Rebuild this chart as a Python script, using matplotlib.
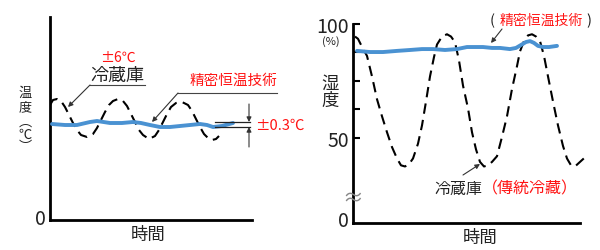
import matplotlib
matplotlib.use("Agg")
import matplotlib.pyplot as plt

plt.rcParams['font.family'] = ['Noto Sans CJK JP', 'DejaVu Sans']

# -------------------------------------------------------
# DATA (relative units)
# -------------------------------------------------------

# left: temperature, ordinary fridge vs precision constant-temperature
temp_t_fridge = [0, 3, 7, 11, 15, 19, 23, 27, 31, 37, 43, 47, 51, 55, 59, 63, 68,
                 73, 77, 81, 85, 89, 93, 99, 105, 109, 113, 117, 121, 126, 132,
                 138, 142, 146, 150, 154, 158, 162, 166, 169]
temp_fridge = [115, 120, 121, 119, 113, 105, 97, 90, 85, 83, 86, 92, 100, 108, 115,
               119, 121, 119, 114, 106, 98, 90, 85, 81, 84, 90, 98, 106, 113, 117,
               118, 115, 109, 101, 93, 86, 82, 80, 81, 84]

temp_t_precise = [2, 15, 27, 40, 47, 60, 72, 83, 91, 100, 110, 120, 130, 140, 150,
                  157, 163, 172, 183]
temp_precise = [96, 95, 95, 98, 99, 97, 97, 98, 97, 95, 93, 93, 94, 95, 96,
                95, 93, 94, 97]

# right: humidity (%)
hum_t_fridge = [2, 5, 9, 14, 19, 24, 29, 34, 39, 44, 48, 52, 56, 60, 65, 69, 73, 77,
                81, 84, 89, 94, 98, 102, 106, 110, 115, 119, 123, 127, 131, 135,
                139, 144, 149, 154, 159, 164, 167, 171, 175, 179, 183, 187, 191,
                195, 200, 205, 210, 214, 218, 222, 227, 232]
hum_fridge = [94.5, 93.5, 90, 86, 77, 67, 59.5, 52.5, 46, 41, 38, 37.5, 38.5, 41,
              47.5, 55.5, 66, 77, 85.5, 91, 94.5, 95.5, 94.5, 92, 84, 73, 63, 52.5,
              45, 39.5, 37.5, 38, 39.5, 42, 50.5, 59.5, 71.5, 81.5, 88, 92.5, 95,
              95.5, 94.5, 92.5, 86, 77, 66, 55.5, 46.5, 41, 38, 37.5, 39.5, 41.5]

hum_t_precise = [4, 17, 30, 44, 57, 69, 80, 92, 104, 114, 122, 130, 139, 147, 157,
                 163, 168, 173, 177, 181, 185, 190, 196, 204]
hum_precise = [88.2, 87.7, 87.7, 88.2, 88.6, 89.0, 89.0, 88.6, 89.0, 89.9, 89.9,
               89.9, 89.5, 89.5, 89.0, 89.5, 90.8, 92.1, 92.5, 91.7, 90.4, 89.9,
               89.9, 90.4]

hum_ticks = [100, 87.5, 75, 62.5, 50]
hum_tick_labels = ['100', '', '', '', '50']

blue = '#4a92d2'
red = '#ff1414'
ink = '#222222'
dash = (5, 3)

fig = plt.figure(figsize=(6, 2.51), dpi=100)
W, H = 600, 251


def box(x0, y0, x1, y1):
    return [x0 / W, 1 - y1 / H, (x1 - x0) / W, (y1 - y0) / H]


# -------------------------------------------------------
# LEFT: TEMPERATURE
# -------------------------------------------------------

ax1 = fig.add_axes(box(50, 18, 252, 221))
ax1.plot(temp_t_fridge, temp_fridge, color='black', lw=1.5,
         dashes=dash, zorder=2)
ax1.plot(temp_t_precise, temp_precise, color=blue, lw=2.8,
         solid_capstyle='round', zorder=3)
ax1.set_xlim(0, 202)
ax1.set_ylim(0, 203)
ax1.set_xticks([])
ax1.set_yticks([])

# -------------------------------------------------------
# RIGHT: HUMIDITY
# -------------------------------------------------------

ax2 = fig.add_axes(box(353, 25, 580, 224))
ax2.plot(hum_t_fridge, hum_fridge, color='black', lw=1.5,
         dashes=dash, clip_on=False, zorder=2)
ax2.plot(hum_t_precise, hum_precise, color=blue, lw=2.8,
         solid_capstyle='round', zorder=3)
ax2.set_xlim(0, 227)
ax2.set_ylim(12.7, 100)
ax2.set_xticks([])
ax2.set_yticks(hum_ticks)
ax2.set_yticklabels(hum_tick_labels, fontsize=14, color=ink)
ax2.tick_params(axis='y', direction='in', length=5, width=1.5, pad=3)

for ax in (ax1, ax2):
    for s in ('top', 'right'):
        ax.spines[s].set_visible(False)
    for s in ('left', 'bottom'):
        ax.spines[s].set_linewidth(2)
    ax.patch.set_visible(False)

# -------------------------------------------------------
# ANNOTATIONS (pixel overlay)
# -------------------------------------------------------

ov = fig.add_axes([0, 0, 1, 1], zorder=5)
ov.set_xlim(0, W)
ov.set_ylim(H, 0)
ov.axis('off')
ov.patch.set_visible(False)

arrow = dict(arrowstyle='-|>', color='#333333', lw=0.8,
             mutation_scale=7, shrinkA=0, shrinkB=0)

# left panel
ov.text(40, 220, '0', fontsize=14, ha='center', va='center', color=ink)
ov.text(148, 235, '時間', fontsize=12.5, ha='center', va='center', color=ink)
for ch, y in zip(['温', '度', '︵', '℃', '︶'], [93, 108, 122, 135, 148]):
    ov.text(25, y, ch, fontsize=9.5, ha='center', va='center', color=ink)

ov.text(118, 58, '±6℃', fontsize=10, color=red, ha='center', va='center')
ov.text(117, 76, '冷蔵庫', fontsize=13, color=ink, ha='center', va='center')
ov.plot([145, 90], [86, 86], color='#444444', lw=0.8)
ov.annotate('', xy=(68, 108), xytext=(90, 86), arrowprops=arrow)

ov.text(233, 81, '精密恒温技術', fontsize=10.5, color=red, ha='center', va='center')
ov.plot([277, 178], [94, 94], color='#444444', lw=0.8)
ov.annotate('', xy=(152, 123), xytext=(178, 94), arrowprops=arrow)

ov.plot([215, 250], [123, 123], color=ink, lw=0.9)
ov.plot([215, 250], [128, 128], color=ink, lw=0.9)
ov.annotate('', xy=(249, 123), xytext=(249, 105), arrowprops=arrow)
ov.annotate('', xy=(249, 128), xytext=(249, 148), arrowprops=arrow)
ov.text(255, 126, '±0.3℃', fontsize=10.5, color=red, ha='left', va='center')

# right panel
ov.text(331, 42, '(%)', fontsize=8, ha='center', va='center', color=ink)
ov.text(343, 222, '0', fontsize=14, ha='center', va='center', color=ink)
ov.text(353, 199, '≈', fontsize=15, color='#888888', ha='center', va='center')
ov.text(330, 84, '湿', fontsize=12.5, ha='center', va='center', color=ink)
ov.text(330, 101, '度', fontsize=12.5, ha='center', va='center', color=ink)
ov.text(480, 238, '時間', fontsize=12.5, ha='center', va='center', color=ink)

ov.text(492, 21, '(', fontsize=10.5, color=ink, ha='center', va='center')
ov.text(541, 21, '精密恒温技術', fontsize=10, color=red, ha='center', va='center')
ov.text(589, 21, ')', fontsize=10.5, color=ink, ha='center', va='center')
ov.annotate('', xy=(491, 44), xytext=(502, 30), arrowprops=arrow)

ov.text(482, 189, '冷蔵庫', fontsize=11.5, color=ink, ha='right', va='center')
ov.text(482, 189, '（傳統冷藏）', fontsize=11.5, color=red, ha='left', va='center')
ov.annotate('', xy=(480, 165), xytext=(463, 176), arrowprops=arrow)

fig.savefig('out.png', dpi=100)
